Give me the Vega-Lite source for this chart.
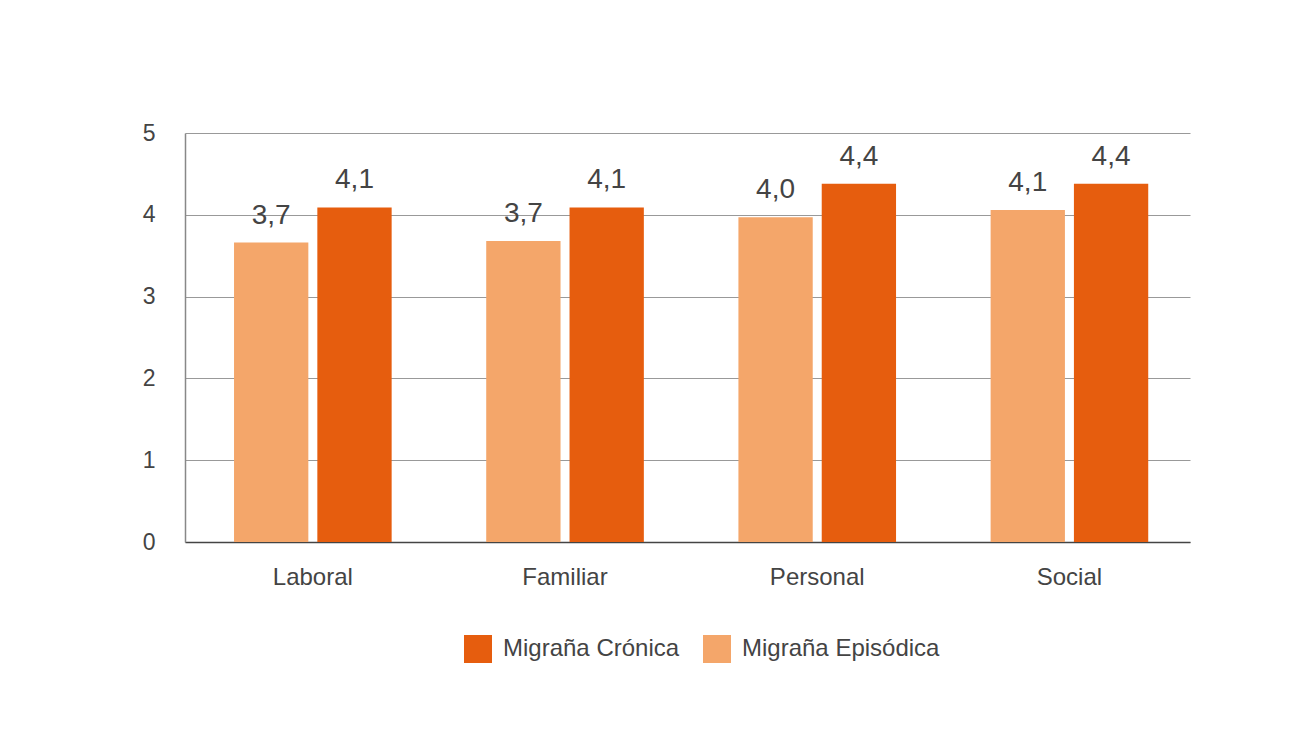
{
  "$schema": "https://vega.github.io/schema/vega-lite/v6.json",
  "width": 1005,
  "height": 409,
  "autosize": {"type": "none"},
  "padding": {"left": 185, "top": 133, "right": 103, "bottom": 198},
  "background": "#ffffff",
  "config": {
    "font": "Liberation Sans",
    "view": {"stroke": null},
    "locale": {"number": {"decimal": ",", "thousands": ".", "grouping": [3], "currency": ["", " €"]}}
  },
  "data": {
    "values": [
      {"area": "Laboral", "tipo": "Migraña Episódica", "valor": 3.66},
      {"area": "Laboral", "tipo": "Migraña Crónica", "valor": 4.09},
      {"area": "Familiar", "tipo": "Migraña Episódica", "valor": 3.68},
      {"area": "Familiar", "tipo": "Migraña Crónica", "valor": 4.09},
      {"area": "Personal", "tipo": "Migraña Episódica", "valor": 3.97},
      {"area": "Personal", "tipo": "Migraña Crónica", "valor": 4.38},
      {"area": "Social", "tipo": "Migraña Episódica", "valor": 4.06},
      {"area": "Social", "tipo": "Migraña Crónica", "valor": 4.38}
    ]
  },
  "encoding": {
    "x": {
      "field": "area", "type": "nominal", "sort": ["Laboral", "Familiar", "Personal", "Social"],
      "scale": {"paddingInner": 0.375, "paddingOuter": 0.18, "align": 0.54},
      "axis": {"title": null, "labelAngle": 0, "labelFontSize": 24, "labelColor": "#444444", "labelPadding": 23, "ticks": false, "domainColor": "#444444", "domainWidth": 1.5}
    },
    "xOffset": {
      "field": "tipo", "type": "nominal", "sort": ["Migraña Episódica", "Migraña Crónica"],
      "scale": {"paddingInner": 0.108, "paddingOuter": 0}
    },
    "y": {
      "field": "valor", "type": "quantitative",
      "scale": {"domain": [0, 5]},
      "axis": {"title": null, "values": [0, 1, 2, 3, 4, 5], "format": "d", "labelFontSize": 23, "labelColor": "#444444", "labelPadding": 30, "ticks": false, "domainColor": "#888888", "domainWidth": 1.5, "gridColor": "#999999", "gridWidth": 1}
    }
  },
  "layer": [
    {
      "mark": {"type": "bar"},
      "encoding": {
        "color": {
          "field": "tipo", "type": "nominal",
          "scale": {"domain": ["Migraña Crónica", "Migraña Episódica"], "range": ["#E65D0E", "#F4A66A"]},
          "legend": {"title": null, "orient": "none", "legendX": 279, "legendY": 502, "direction": "horizontal", "symbolType": "square", "symbolSize": 784, "symbolStrokeWidth": 0, "symbolOpacity": 1, "labelFontSize": 24, "labelColor": "#444444", "labelLimit": 400, "columnPadding": 23, "labelOffset": 11}
        }
      }
    },
    {
      "mark": {"type": "text", "baseline": "bottom", "dy": -13, "fontSize": 28, "color": "#444444"},
      "encoding": {
        "text": {"field": "valor", "type": "quantitative", "format": ".1f"}
      }
    }
  ]
}
